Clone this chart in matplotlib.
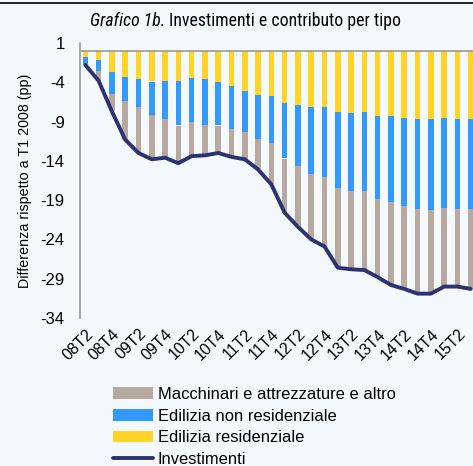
import matplotlib
matplotlib.use("Agg")
import matplotlib.pyplot as plt
from matplotlib.lines import Line2D
import numpy as np

quarters = ["08T2", "08T3", "08T4", "09T1", "09T2", "09T3", "09T4", "10T1", "10T2", "10T3",
            "10T4", "11T1", "11T2", "11T3", "11T4", "12T1", "12T2", "12T3", "12T4", "13T1",
            "13T2", "13T3", "13T4", "14T1", "14T2", "14T3", "14T4", "15T1", "15T2", "15T3"]

residenziale = [-0.8, -1.15, -2.7, -3.3, -3.6, -3.9, -3.8, -3.8, -3.4, -3.6,
                -3.95, -4.45, -5.05, -5.6, -5.8, -6.65, -6.9, -7.2, -7.2, -7.8,
                -7.85, -7.8, -8.3, -8.3, -8.5, -8.65, -8.7, -8.6, -8.7, -8.7]
non_residenziale = [-0.9, -1.4, -2.8, -3.1, -3.5, -4.3, -4.9, -5.7, -5.6, -5.8,
                    -5.55, -5.55, -5.25, -5.6, -5.95, -7.05, -7.7, -8.5, -8.8, -9.7,
                    -9.95, -10.0, -10.6, -10.9, -11.2, -11.45, -11.5, -11.4, -11.4, -11.4]
macchinari = [-0.1, -1.25, -2.2, -4.9, -5.9, -5.6, -4.9, -4.8, -4.4, -3.9,
              -3.5, -3.5, -3.5, -3.9, -5.25, -6.9, -7.8, -8.3, -8.9, -10.1,
              -10.0, -10.1, -9.9, -10.6, -10.6, -10.8, -10.7, -10.0, -9.9, -10.2]
investimenti = [-1.8, -3.8, -7.7, -11.3, -13.0, -13.8, -13.6, -14.3, -13.4, -13.3,
                -13.0, -13.5, -13.8, -15.1, -17.0, -20.6, -22.4, -24.0, -24.9, -27.6,
                -27.8, -27.9, -28.8, -29.8, -30.3, -30.9, -30.9, -30.0, -30.0, -30.3]

yticks = [1, -4, -9, -14, -19, -24, -29, -34]

title_italic = "Grafico 1b."
title_rest = "Investimenti e contributo per tipo"
ylabel = "Differenza rispetto a T1 2008 (pp)"
labels = ["Macchinari e attrezzature e altro", "Edilizia non residenziale",
          "Edilizia residenziale", "Investimenti"]

BG = "#f4f9fd"
C_MAC = "#b7a8a0"
C_NON = "#3399ff"
C_RES = "#ffd426"
C_LINE = "#2d3271"

plt.rcParams['font.family'] = ['Liberation Sans', 'DejaVu Sans']

W, H = 473, 466
fig = plt.figure(figsize=(W / 100, H / 100), dpi=100, facecolor=BG)
ax = fig.add_axes([80 / W, 1 - 318 / H, 1 - 80 / W, (318 - 43) / H])
ax.set_facecolor(BG)

x = np.arange(len(quarters))
res = np.array(residenziale)
non = np.array(non_residenziale)
mac = np.array(macchinari)
bw = 0.42
b_mac = ax.bar(x, mac, bw, bottom=res + non, color=C_MAC, zorder=2)
b_non = ax.bar(x, non, bw, bottom=res, color=C_NON, zorder=2)
b_res = ax.bar(x, res, bw, color=C_RES, zorder=2)
ax.axhline(0, color="#9a9a9a", lw=1.2, zorder=3)
ln, = ax.plot(x, investimenti, color=C_LINE, lw=2.8, zorder=4, solid_capstyle="round")

ax.set_ylim(-34, 1)
ax.set_xlim(-0.4, (473 - 85) / 13.3)
ax.set_yticks(yticks)
ax.set_yticklabels([str(t) for t in yticks], fontsize=12)
ax.set_xticks(x[::2])
ax.set_xticklabels(quarters[::2], fontsize=11.5, rotation=45, ha="right",
                   rotation_mode="anchor")
ax.tick_params(axis="both", length=0)
ax.tick_params(axis="y", pad=11)
ax.tick_params(axis="x", pad=6)
for s in ["top", "right", "bottom"]:
    ax.spines[s].set_visible(False)
ax.spines["left"].set_color("#9a9a9a")
ax.spines["left"].set_linewidth(1.2)
ax.set_ylabel(ylabel, fontsize=10.3)
ax.yaxis.set_label_coords((32 - 80) / (W - 80), 0.5)

fig.legend([b_mac, b_non, b_res, ln], labels, loc="upper left",
           bbox_to_anchor=(113 / W, 1 - 387 / H), frameon=False, fontsize=11.9,
           handlelength=2.4, handletextpad=0.3, labelspacing=0.4,
           borderpad=0, borderaxespad=0)

fig.add_artist(Line2D([0, 1], [1 - 2.5 / H, 1 - 2.5 / H], color="black", lw=1.2))

tfam = ['Liberation Sans Narrow', 'DejaVu Sans Condensed', 'Roboto Condensed', 'Liberation Sans']
t1 = fig.text(90 / W, 1 - 21.5 / H, title_italic, fontsize=12.8, style="italic",
              family=tfam, ha="left", va="center")
fig.canvas.draw()
bb = t1.get_window_extent()
fig.text((bb.x1 + 4) / W, 1 - 21.5 / H, title_rest, fontsize=12.8,
         family=tfam, ha="left", va="center")

fig.savefig("out.png", dpi=100, facecolor=BG)
